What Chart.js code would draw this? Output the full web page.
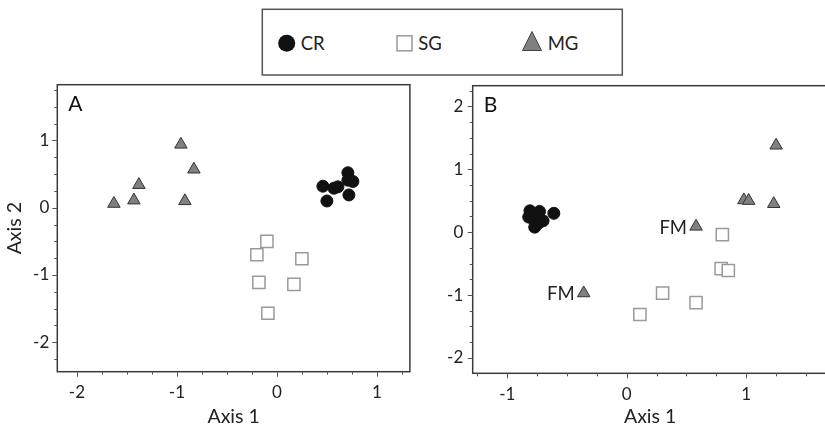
<!DOCTYPE html>
<html>
<head>
<meta charset="utf-8">
<script src="https://cdn.jsdelivr.net/npm/chart.js@4.4.0/dist/chart.umd.min.js"></script>
<style>
html,body{margin:0;padding:0;background:#fff;width:825px;height:424px;overflow:hidden;position:relative;font-family:Lato,sans-serif;}
#wrapA{position:absolute;left:0;top:0;width:420px;height:424px;}
#wrapB{position:absolute;left:420px;top:0;width:420px;height:424px;}
#legend{position:absolute;left:0;top:0;}
</style>
</head>
<body>
<div id="wrapA"><canvas id="chartA" width="420" height="424"></canvas></div>
<div id="wrapB"><canvas id="chartB" width="420" height="424"></canvas></div>
<svg id="legend" width="825" height="90" xmlns="http://www.w3.org/2000/svg">
  <rect x="262.3" y="9.3" width="360" height="65.7" fill="#fff" stroke="#555" stroke-width="1.5"/>
  <circle cx="286.7" cy="43.3" r="8.5" fill="#111"/>
  <text x="300.7" y="50.2" font-family="Lato" font-size="18.5" fill="#222">CR</text>
  <rect x="397" y="35.8" width="15" height="15" fill="#fff" stroke="#999" stroke-width="1.5"/>
  <text x="418.3" y="50.2" font-family="Lato" font-size="18.5" fill="#222">SG</text>
  <polygon points="532,31.5 541.5,50.5 522.5,50.5" fill="#808080" stroke="#444" stroke-width="1"/>
  <text x="547.7" y="50.2" font-family="Lato" font-size="18.5" fill="#222">MG</text>
</svg>
<script>
// ---- data ----
const seriesNames = ['CR', 'SG', 'MG'];
const axisTitleX = 'Axis 1';
const axisTitleY = 'Axis 2';
const panelLetters = ['A', 'B'];

// Panel A
const crA_x = [0.46, 0.50, 0.57, 0.61, 0.71, 0.71, 0.76, 0.72];
const crA_y = [0.32, 0.10, 0.29, 0.31, 0.52, 0.41, 0.39, 0.19];
const sgA_x = [-0.10, -0.20, 0.25, -0.18, 0.17, -0.09];
const sgA_y = [-0.50, -0.70, -0.76, -1.11, -1.14, -1.57];
const mgA_x = [-1.63, -1.43, -1.38, -0.96, -0.83, -0.92];
const mgA_y = [0.06, 0.11, 0.34, 0.94, 0.57, 0.10];

// Panel B
const crB_x = [-0.81, -0.73, -0.79, -0.70, -0.77, -0.75, -0.74, -0.82, -0.61];
const crB_y = [0.34, 0.33, 0.22, 0.18, 0.08, 0.27, 0.14, 0.24, 0.30];
const sgB_x = [0.80, 0.79, 0.85, 0.30, 0.58, 0.11];
const sgB_y = [-0.04, -0.58, -0.61, -0.97, -1.12, -1.31];
const mgB_x = [-0.36, 0.58, 0.98, 1.02, 1.25, 1.23];
const mgB_y = [-0.97, 0.09, 0.51, 0.50, 1.38, 0.45];
const mgB_labels = ['FM', 'FM', '', '', '', ''];

// axis ranges
const rangeA = {xmin: -2.196, xmax: 1.33, ymin: -2.44, ymax: 1.83};
const rangeB = {xmin: -1.289, xmax: 1.68, ymin: -2.245, ymax: 2.33};

// ---- helpers ----
const pts = (xs, ys) => xs.map((x, i) => ({x: x, y: ys[i]}));
const isInt = v => Math.abs(v - Math.round(v)) < 1e-6;
const tickLbl = v => isInt(v) ? String(Math.round(v)) : '';
const FONT = 'Lato';

function makeDatasets(cr, sg, mg, mgLabels) {
  return [
    {label: seriesNames[0], data: cr, pointStyle: 'circle', pointRadius: 6, pointHoverRadius: 6,
     backgroundColor: '#111', borderColor: '#111', borderWidth: 1},
    {label: seriesNames[1], data: sg, pointStyle: 'rect', pointRadius: 8.6, pointHoverRadius: 8.6,
     backgroundColor: '#fff', borderColor: '#9a9a9a', borderWidth: 1.5},
    {label: seriesNames[2], data: mg, pointStyle: 'triangle', pointRadius: 7.2, pointHoverRadius: 7.2,
     backgroundColor: '#808080', borderColor: '#333', borderWidth: 1, pointLabels: mgLabels || null}
  ];
}

const framePlugin = {
  id: 'frame',
  afterDraw(chart, args, opts) {
    const {ctx, chartArea: a} = chart;
    ctx.save();
    ctx.strokeStyle = '#3a3a3a';
    ctx.lineWidth = 1.5;
    ctx.strokeRect(a.left, a.top, a.right - a.left, a.bottom - a.top);
    ctx.lineWidth = 1;
    ctx.strokeStyle = '#555';
    const xs = chart.scales.x, ys = chart.scales.y;
    xs.ticks.forEach(t => {
      const px = Math.round(xs.getPixelForValue(t.value)) + 0.5;
      const len = isInt(t.value) ? 5 : 3;
      ctx.beginPath(); ctx.moveTo(px, a.bottom); ctx.lineTo(px, a.bottom + len); ctx.stroke();
    });
    ys.ticks.forEach(t => {
      const py = Math.round(ys.getPixelForValue(t.value)) + 0.5;
      const len = isInt(t.value) ? 5 : 3;
      ctx.beginPath(); ctx.moveTo(a.left, py); ctx.lineTo(a.left - len, py); ctx.stroke();
    });
    ctx.fillStyle = '#111';
    ctx.font = '21px ' + FONT;
    ctx.textBaseline = 'alphabetic';
    ctx.textAlign = 'left';
    ctx.fillText(opts.letter, a.left + 11, a.top + 26.3);
    ctx.restore();
  },
  afterDatasetsDraw(chart) {
    const ctx = chart.ctx;
    ctx.save();
    ctx.fillStyle = '#222';
    ctx.font = '18.5px ' + FONT;
    ctx.textAlign = 'right';
    ctx.textBaseline = 'alphabetic';
    chart.data.datasets.forEach((ds, i) => {
      if (!ds.pointLabels) return;
      const meta = chart.getDatasetMeta(i);
      meta.data.forEach((el, j) => {
        const t = ds.pointLabels[j];
        if (t) ctx.fillText(t, el.x - 9, el.y + 7);
      });
    });
    ctx.restore();
  }
};

function makeChart(id, datasets, range, geom, letter, showYTitle) {
  return new Chart(document.getElementById(id), {
    type: 'scatter',
    data: {datasets: datasets},
    plugins: [framePlugin],
    options: {
      responsive: false,
      animation: false,
      events: [],
      layout: {padding: {top: geom.top, right: geom.right, left: 0, bottom: 0}},
      plugins: {legend: {display: false}, tooltip: {enabled: false}, frame: {letter: letter}},
      scales: {
        x: {
          type: 'linear', position: 'bottom',
          min: range.xmin, max: range.xmax,
          afterFit: s => { s.height = geom.xh; },
          grid: {display: false, drawTicks: true, tickLength: 5},
          border: {display: false},
          ticks: {stepSize: 0.25, includeBounds: false, autoSkip: false, maxRotation: 0,
                  padding: 6, color: '#222', font: {family: FONT, size: 17}, callback: tickLbl},
          title: {display: true, text: axisTitleX, color: '#222',
                  font: {family: FONT, size: 19.5, lineHeight: 0.7}, padding: {top: 0, bottom: 0}}
        },
        y: {
          type: 'linear', position: 'left',
          min: range.ymin, max: range.ymax,
          afterFit: s => { s.width = geom.yw; },
          grid: {display: false, drawTicks: true, tickLength: 5},
          border: {display: false},
          ticks: {stepSize: 0.25, includeBounds: false, autoSkip: false,
                  padding: geom.ypad, color: '#222', font: {family: FONT, size: 17}, callback: tickLbl},
          title: {display: showYTitle, text: axisTitleY, color: '#222',
                  font: {family: FONT, size: 19.5, lineHeight: 1}, padding: {top: 5, bottom: 0}}
        }
      }
    }
  });
}

makeChart('chartA', makeDatasets(pts(crA_x, crA_y), pts(sgA_x, sgA_y), pts(mgA_x, mgA_y)),
  rangeA, {top: 84.7, right: 2, xh: 52.3, yw: 57.3, ypad: 3}, panelLetters[0], true);
makeChart('chartB', makeDatasets(pts(crB_x, crB_y), pts(sgB_x, sgB_y), pts(mgB_x, mgB_y), mgB_labels),
  rangeB, {top: 85.7, right: 12.5, xh: 50.7, yw: 52.7, ypad: 4.4}, panelLetters[1], false);
</script>
</body>
</html>
